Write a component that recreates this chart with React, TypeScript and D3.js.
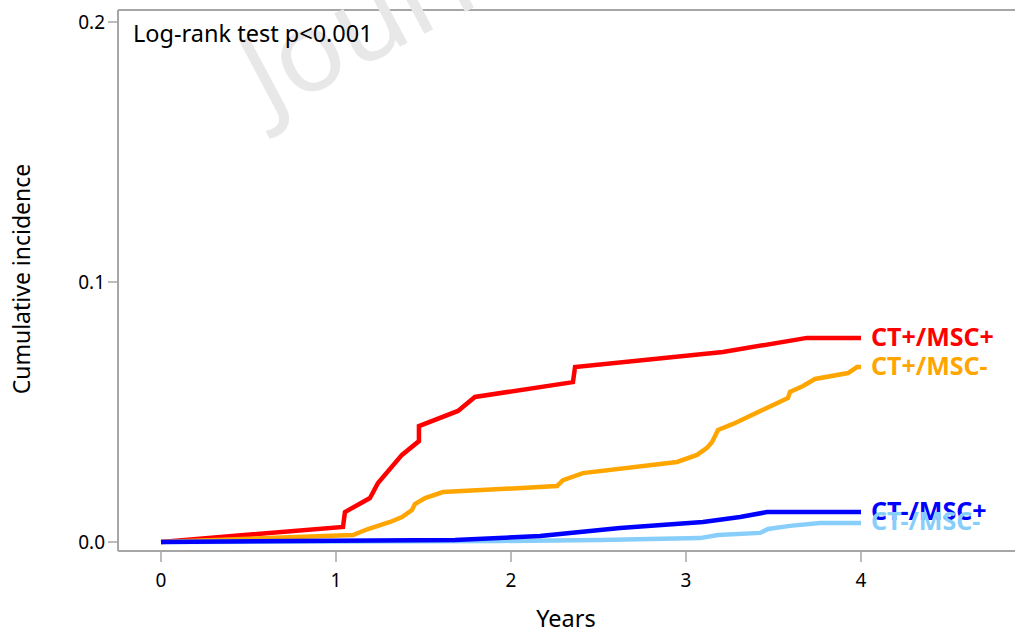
import React from "react";
import * as d3 from "d3";

// Cumulative incidence curves (years, incidence)
const redYears = [0, 1.04, 1.051, 1.194, 1.24, 1.377, 1.474, 1.474, 1.697, 1.794, 2.354, 2.366, 3.211, 3.691, 4.0];
const redValues = [0, 0.0058, 0.0115, 0.0169, 0.0227, 0.0335, 0.0388, 0.0446, 0.0504, 0.0558, 0.0615, 0.0673, 0.0731, 0.0785, 0.0785];

const orangeYears = [0, 1.097, 1.183, 1.309, 1.377, 1.434, 1.451, 1.509, 1.611, 2.263, 2.297, 2.411, 2.949, 3.063, 3.12, 3.149, 3.183, 3.269, 3.583, 3.594, 3.669, 3.737, 3.926, 3.977, 4.0];
const orangeValues = [0, 0.0027, 0.005, 0.0077, 0.0096, 0.0123, 0.0146, 0.0169, 0.0192, 0.0215, 0.0238, 0.0265, 0.0308, 0.0335, 0.0362, 0.0385, 0.0431, 0.0454, 0.0554, 0.0577, 0.06, 0.0627, 0.065, 0.0673, 0.0673];

const blueYears = [0, 1.68, 2.166, 2.623, 3.097, 3.309, 3.463, 4.0];
const blueValues = [0, 0.0008, 0.0023, 0.0054, 0.0077, 0.0096, 0.0115, 0.0115];

const lightBlueYears = [0, 1.937, 2.509, 3.08, 3.183, 3.423, 3.469, 3.594, 3.766, 4.0];
const lightBlueValues = [0, 0.0004, 0.0008, 0.0015, 0.0027, 0.0035, 0.005, 0.0062, 0.0073, 0.0073];

const groupNames = ["CT+/MSC+", "CT+/MSC-", "CT-/MSC+", "CT-/MSC-"];
const groupColors = ["#ff0000", "#ffa500", "#0000ff", "#87cefa"];

const xTicks = [0, 1, 2, 3, 4];
const yTicks = [0, 0.1, 0.2];

const W = 1015;
const H = 630;
const FONT = "'Noto Sans', 'Open Sans', sans-serif";

export default function App() {
  const x = d3.scaleLinear().domain([0, 4]).range([161, 861]);
  const y = d3.scaleLinear().domain([0, 0.2]).range([542, 22]);

  const series = [
    { name: groupNames[0], color: groupColors[0], xs: redYears, ys: redValues },
    { name: groupNames[1], color: groupColors[1], xs: orangeYears, ys: orangeValues },
    { name: groupNames[3], color: groupColors[3], xs: lightBlueYears, ys: lightBlueValues },
    { name: groupNames[2], color: groupColors[2], xs: blueYears, ys: blueValues },
  ];

  const line = d3
    .line<[number, number]>()
    .x((d) => x(d[0]))
    .y((d) => y(d[1]));

  const frameLeft = 118;
  const frameTop = 10;
  const frameBottom = 551;
  const axisColor = "#a6a6a6";

  // End labels placed next to the final value of each curve
  const labelOrder = [
    { name: groupNames[0], color: groupColors[0], v: redValues[redValues.length - 1], dy: 8 },
    { name: groupNames[1], color: groupColors[1], v: orangeValues[orangeValues.length - 1], dy: 8 },
    { name: groupNames[2], color: groupColors[2], v: blueValues[blueValues.length - 1], dy: 8 },
    { name: groupNames[3], color: groupColors[3], v: lightBlueValues[lightBlueValues.length - 1], dy: 7 },
  ];

  return (
    <svg width={W} height={H} style={{ position: "absolute", left: 0, top: 0, background: "#fff" }} fontFamily={FONT}>
      <rect x={0} y={0} width={W} height={H} fill="#fff" />
      {/* frame: top, left and bottom edges */}
      <line x1={frameLeft} y1={frameTop} x2={W} y2={frameTop} stroke={axisColor} strokeWidth={2} />
      <line x1={frameLeft} y1={frameTop} x2={frameLeft} y2={frameBottom} stroke={axisColor} strokeWidth={2} />
      <line x1={frameLeft} y1={frameBottom} x2={W} y2={frameBottom} stroke={axisColor} strokeWidth={2} />

      {/* watermark */}
      <text
        x={0}
        y={0}
        transform="translate(268,117) rotate(-28)"
        fontSize={112}
        fill="#e8e8e8"
        fontFamily={FONT}
      >
        Journal Pre-proof
      </text>

      {/* y axis */}
      {yTicks.map((t) => (
        <g key={"y" + t}>
          <line x1={frameLeft - 10} x2={frameLeft} y1={y(t)} y2={y(t)} stroke={axisColor} strokeWidth={1.5} />
          <text x={frameLeft - 13} y={y(t) + 7} textAnchor="end" fontSize={19} fill="#000">
            {d3.format(".1f")(t)}
          </text>
        </g>
      ))}
      {/* x axis */}
      {xTicks.map((t) => (
        <g key={"x" + t}>
          <line x1={x(t)} x2={x(t)} y1={frameBottom} y2={frameBottom + 11} stroke={axisColor} strokeWidth={1.5} />
          <text x={x(t)} y={587} textAnchor="middle" fontSize={19} fill="#000">
            {t}
          </text>
        </g>
      ))}

      <text x={566} y={627} textAnchor="middle" fontSize={23.5} fill="#000">
        Years
      </text>
      <text transform="translate(30,279) rotate(-90)" textAnchor="middle" fontSize={23} fill="#000">
        Cumulative incidence
      </text>

      <text x={133} y={42} fontSize={23.5} fill="#000">
        Log-rank test p&lt;0.001
      </text>

      {/* curves */}
      {series.map((s) => (
        <path
          key={s.name}
          d={line(s.xs.map((xv, i) => [xv, s.ys[i]] as [number, number])) || ""}
          fill="none"
          stroke={s.color}
          strokeWidth={4.5}
          strokeLinejoin="miter"
          strokeLinecap="butt"
        />
      ))}

      {labelOrder.map((l) => (
        <text key={l.name} x={871} y={y(l.v) + l.dy} fontSize={25} fontWeight="bold" fill={l.color}>
          {l.name}
        </text>
      ))}
    </svg>
  );
}
